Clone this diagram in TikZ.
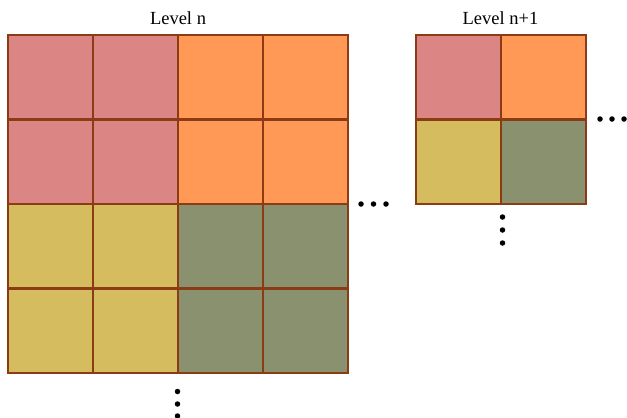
\documentclass[tikz,border=0pt]{standalone}
\usepackage{fontspec}
\setmainfont{Liberation Serif}
\definecolor{cpink}{RGB}{220,133,133}
\definecolor{corange}{RGB}{255,153,85}
\definecolor{cyellow}{RGB}{212,188,95}
\definecolor{cgreen}{RGB}{138,145,110}
\definecolor{cborder}{RGB}{140,60,20}
\begin{document}
\begin{tikzpicture}[x=1pt,y=-1pt,
  cell/.style={draw=cborder,line width=2.5pt,minimum width=85pt,minimum height=84.5pt,inner sep=0pt,outer sep=0pt},
  dotmark/.style={fill=black,circle,inner sep=0pt,minimum size=5.5pt},
  lbl/.style={font=\fontsize{18.5}{21}\selectfont,inner sep=0pt}]
\useasboundingbox (0,0) rectangle (627,418);
% left grid
\foreach \r in {0,1,2,3}{
  \foreach \c in {0,1,2,3}{
    \pgfmathsetmacro{\q}{(\r<2 ? (\c<2 ? 0 : 1) : (\c<2 ? 2 : 3))}
    \ifcase\q \def\col{cpink}\or \def\col{corange}\or \def\col{cyellow}\or \def\col{cgreen}\fi
    \node[cell,fill=\col,anchor=north west] (L\r\c) at ({8+85*\c},{35+84.5*\r}) {};
  }
}
% right grid
\node[cell,fill=cpink,anchor=north west] (R00) at (416,35) {};
\node[cell,fill=corange,anchor=north west] (R01) at (501,35) {};
\node[cell,fill=cyellow,anchor=north west] (R10) at (416,119.5) {};
\node[cell,fill=cgreen,anchor=north west] (R11) at (501,119.5) {};
% labels
\node[lbl] (t1) at (178,18) {Level n};
\node[lbl] (t2) at (500.5,18) {Level n+1};
% dots
\foreach \x [count=\i] in {361,373.5,386}{\node[dotmark] (h\i) at (\x,204) {};}
\foreach \x [count=\i] in {600,612,624}{\node[dotmark] (r\i) at (\x,119) {};}
\foreach \y [count=\i] in {217,230,243}{\node[dotmark] (v\i) at (502.5,\y) {};}
\foreach \y [count=\i] in {391.5,404,416}{\node[dotmark] (b\i) at (177.5,\y) {};}
\end{tikzpicture}
\end{document}
